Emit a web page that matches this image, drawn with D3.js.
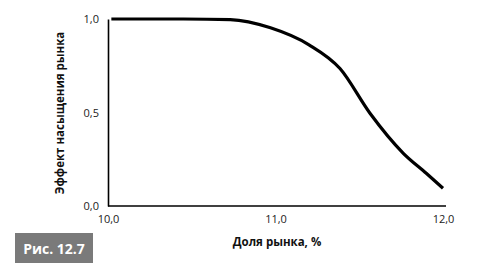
<!DOCTYPE html>
<html>
<head>
<meta charset="utf-8">
<script src="https://cdn.jsdelivr.net/npm/d3@7"></script>
<style>
body { margin: 0; background: #fff; }
svg { display: block; font-family: "Open Sans", sans-serif; }
</style>
</head>
<body>
<script>
// share of market, %
var share = [10.02, 10.45, 10.73, 10.97, 11.2, 11.385, 11.564, 11.763, 11.9, 12.0];
// saturation effect
var effect = [1.0, 1.0, 0.997, 0.953, 0.862, 0.735, 0.496, 0.282, 0.175, 0.095];
var xTicks = [10, 11, 12];
var yTicks = [0, 0.5, 1];

var w = 481;
var h = 270;

var svg = d3.select("body").append("svg")
  .attr("width", w)
  .attr("height", h);

var x = d3.scaleLinear().domain([10, 12]).range([108, 443]);
var y = d3.scaleLinear().domain([0, 1]).range([206, 19]);

var fmt = function(d) { return d3.format(".1f")(d).replace(".", ","); };

// axes
var xAxis = svg.append("g")
  .attr("transform", "translate(0," + y(0) + ")")
  .call(d3.axisBottom(x).tickValues(xTicks).tickSize(0).tickPadding(9).tickFormat(fmt));
xAxis.select(".domain").attr("d", "M" + x(10) + ",0H446").attr("stroke-width", 1.6);

var yAxis = svg.append("g")
  .attr("transform", "translate(" + x(10) + ",0)")
  .call(d3.axisLeft(y).tickValues(yTicks).tickSize(0).tickPadding(9).tickFormat(fmt));
yAxis.select(".domain").attr("stroke-width", 1.6);

svg.selectAll(".tick text")
  .attr("font-size", 11)
  .attr("font-family", "Open Sans, sans-serif")
  .attr("fill", "#222");

// curve
var line = d3.line()
  .x(function(d, i) { return x(share[i]); })
  .y(function(d) { return y(d); })
  .curve(d3.curveMonotoneX);

svg.append("path")
  .datum(effect)
  .attr("d", line)
  .attr("fill", "none")
  .attr("stroke", "#000")
  .attr("stroke-width", 3.2);

// axis titles
svg.append("text")
  .attr("x", 277)
  .attr("y", 246)
  .attr("text-anchor", "middle")
  .attr("font-size", 11.5)
  .attr("font-weight", "bold")
  .attr("fill", "#111")
  .text("Доля рынка, %");

svg.append("text")
  .attr("transform", "translate(64,113) rotate(-90)")
  .attr("text-anchor", "middle")
  .attr("font-size", 11.5)
  .attr("font-weight", "bold")
  .attr("fill", "#111")
  .text("Эффект насыщения рынка");

// figure label
svg.append("rect")
  .attr("x", 15)
  .attr("y", 233)
  .attr("width", 78)
  .attr("height", 30)
  .attr("fill", "#7a7a7a");

svg.append("text")
  .attr("x", 54)
  .attr("y", 254)
  .attr("text-anchor", "middle")
  .attr("font-size", 14)
  .attr("font-weight", "bold")
  .attr("fill", "#fff")
  .text("Рис. 12.7");
</script>
</body>
</html>
